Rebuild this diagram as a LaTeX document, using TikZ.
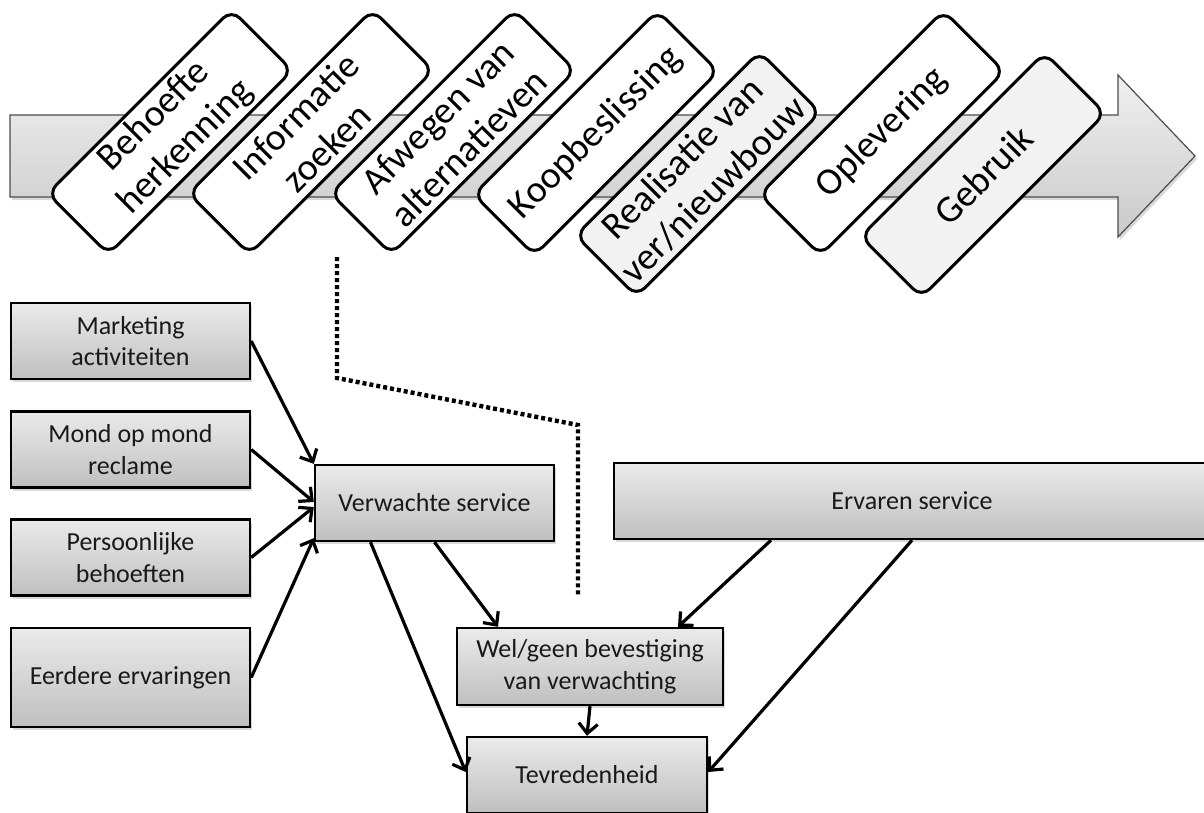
\documentclass[tikz,border=0pt]{standalone}
\usepackage{fontspec}
\setmainfont{Carlito}
\usetikzlibrary{shadows,arrows.meta}
\begin{document}
\begin{tikzpicture}[x=1pt,y=-1pt,
  flowbox/.style={draw=black, line width=2.4pt, top color=gray!16, bottom color=gray!50,
    drop shadow={shadow xshift=2pt,shadow yshift=-3pt,opacity=0.3},
    font=\fontsize{26}{31.7}\selectfont, align=center, inner sep=0pt, text=black!90},
  stagebox/.style={draw=black, line width=3pt, fill=white, rounded corners=12pt, rotate=45,
    minimum width=260pt, minimum height=86pt, inner sep=0pt, align=center,
    font=\fontsize{38}{44}\selectfont},
  stageboxgray/.style={stagebox, fill=gray!10},
  conn/.style={line width=3.2pt, -{Straight Barb[length=10pt,width=19pt]}},
  dotline/.style={line width=4.4pt, dash pattern=on 4pt off 3pt}
]
\useasboundingbox (0,0) rectangle (1204,812);
\clip (0,0) rectangle (1204,812);

% big process arrow
\path[draw=black!70, line width=1.2pt, top color=gray!12, bottom color=gray!42,
  drop shadow={shadow xshift=2pt,shadow yshift=-3pt,opacity=0.3}]
  (10,115) -- (1118,115) -- (1118,75) -- (1195,156) -- (1118,237) -- (1118,197) -- (10,197) -- cycle;

% stages
\node[stagebox] (s1) at (170,132) {Behoefte\\herkenning};
\node[stagebox] (s2) at (311,132) {Informatie\\zoeken};
\node[stagebox] (s3) at (453,132) {Afwegen van\\alternatieven};
\node[stagebox] (s4) at (596,133) {Koopbeslissing};
\node[stagebox] (s6) at (882,133) {Oplevering};
\node[stageboxgray] (s5) at (698,174) {Realisatie van\\ver/nieuwbouw};
\node[stageboxgray] (s7) at (983,175) {Gebruik};

% dotted separator
\coordinate (d1) at (337,257);
\coordinate (d2) at (337,378);
\coordinate (d3) at (578,425);
\coordinate (d4) at (578,597);
\draw[dotline] (d1) -- (d2) -- (d3) -- (d4);

% left boxes
\node[flowbox, minimum width=239pt, minimum height=76pt] (m1) at (130.5,341) {Marketing\\activiteiten};
\node[flowbox, minimum width=239pt, minimum height=76pt] (m2) at (130.5,449.5) {Mond op mond\\reclame};
\node[flowbox, minimum width=239pt, minimum height=76pt] (m3) at (130.5,557.5) {Persoonlijke\\behoeften};
\node[flowbox, minimum width=239pt, minimum height=99pt] (m4) at (130.5,677.5) {Eerdere ervaringen};

% central boxes
\node[flowbox, minimum width=239pt, minimum height=76pt] (vs) at (434.5,503) {Verwachte service};
\node[flowbox, minimum width=596pt, minimum height=76pt] (es) at (912,501) {Ervaren service};
\node[flowbox, minimum width=266pt, minimum height=77pt] (wg) at (590,666.5) {Wel/geen bevestiging\\van verwachting};
\node[flowbox, minimum width=240pt, minimum height=76pt] (tv) at (587,775) {Tevredenheid};

% connectors
\draw[conn] (m1.east) -- (vs.north west);
\draw[conn] (m2.east) -- ([yshift=1pt]vs.west);
\draw[conn] (m3.east) -- ([yshift=-4pt]vs.west);
\draw[conn] (m4.east) -- ([yshift=4pt]vs.south west);
\draw[conn] ([xshift=-64pt]vs.south) -- ([yshift=3pt]tv.west);
\draw[conn] (vs.south) -- ([xshift=-92pt]wg.north);
\draw[conn] ([xshift=-141pt]es.south) -- ([xshift=88pt]wg.north);
\draw[conn] (es.south) -- ([yshift=3pt]tv.east);
\draw[conn] (wg.south) -- (tv.north);
\end{tikzpicture}
\end{document}
